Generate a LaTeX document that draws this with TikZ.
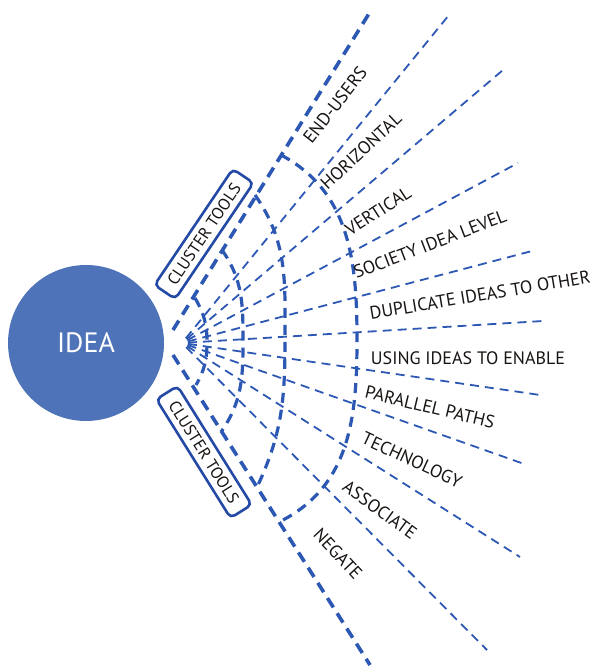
\documentclass[tikz,border=0pt]{standalone}
\usepackage{fontspec}
\setmainfont{PT Sans}
\definecolor{ideablue}{RGB}{79,115,184}
\definecolor{rayblue}{RGB}{44,88,180}
\definecolor{boxblue}{RGB}{36,74,166}
\definecolor{labeltext}{RGB}{24,20,18}

\begin{document}
\begin{tikzpicture}[x=1pt,y=1pt,
	ray/.style={draw=rayblue, line width=1.8pt, dash pattern=on 9pt off 6pt, shorten <=6pt},
	thickray/.style={draw=rayblue, line width=3.6pt, dash pattern=on 11pt off 7pt},
	hoop/.style={draw=rayblue, line width=3.2pt, dash pattern=on 10pt off 7pt},
	lbl/.style={font=\fontsize{18}{20}\selectfont, text=labeltext, inner sep=0pt},
	clusterbox/.style={draw=boxblue, fill=white, line width=2.6pt, rounded corners=5pt, minimum width=140pt, minimum height=25pt, text=labeltext, font=\fontsize{16.5}{18}\selectfont, inner sep=0pt}]
	\useasboundingbox (0,0) rectangle (595,669);

	\coordinate (F) at (182,326);
	\coordinate (eHor) at (449,654);
	\coordinate (eVer) at (503,599);
	\coordinate (eSoc) at (518,506);
	\coordinate (eDup) at (532,418);
	\coordinate (eUse) at (543,348);
	\coordinate (ePar) at (540,274);
	\coordinate (eTec) at (527,204);
	\coordinate (eAss) at (520,112);
	\coordinate (eNeg) at (487,19);
	\coordinate (sTop) at (173,339);
	\coordinate (eTop) at (370,657);
	\coordinate (sBot) at (173,314);
	\coordinate (eBot) at (370,4);

	\draw[ray] (F) -- (eHor);
	\draw[ray] (F) -- (eVer);
	\draw[ray] (F) -- (eSoc);
	\draw[ray] (F) -- (eDup);
	\draw[ray] (F) -- (eUse);
	\draw[ray] (F) -- (ePar);
	\draw[ray] (F) -- (eTec);
	\draw[ray] (F) -- (eAss);
	\draw[ray] (F) -- (eNeg);
	\draw[thickray] (sTop) -- (eTop);
	\draw[thickray] (sBot) -- (eBot);

	\draw[hoop] (195,371) to[out=-60,in=90] (207,327) to[out=-90,in=60] (196,284);
	\draw[hoop] (222,419) to[out=-55,in=90] (243,327) to[out=-90,in=55] (221,237);
	\draw[hoop] (255,474) to[out=-55,in=90] (285,330) to[out=-90,in=65] (258,184);
	\draw[hoop] (281,514) to[out=-28,in=90] (357,330) to[out=-90,in=28] (283,149);

	\node[circle, fill=ideablue, minimum size=156pt, inner sep=0pt, text=white, font=\fontsize{28}{30}\selectfont] (idea) at (86,326) {IDEA};

	\node[clusterbox, rotate=56] (ctop) at (204,435) {CLUSTER TOOLS};
	\node[clusterbox, rotate=-58] (cbot) at (204,217) {CLUSTER TOOLS};

	\node[lbl, rotate=52] (lEnd) at (335,564) {END-USERS};
	\node[lbl, rotate=43] (lHor) at (361,518) {HORIZONTAL};
	\node[lbl, rotate=33] (lVer) at (378,458) {VERTICAL};
	\node[lbl, rotate=21] (lSoc) at (430,425) {SOCIETY IDEA LEVEL};
	\node[lbl, rotate=9.5] (lDup) at (480,374) {DUPLICATE IDEAS TO OTHER};
	\node[lbl] (lUse) at (468,311) {USING IDEAS TO ENABLE};
	\node[lbl, rotate=-13.5] (lPar) at (430,262) {PARALLEL PATHS};
	\node[lbl, rotate=-25] (lTec) at (412,209) {TECHNOLOGY};
	\node[lbl, rotate=-36] (lAss) at (380,159) {ASSOCIATE};
	\node[lbl, rotate=-47] (lNeg) at (338,115) {NEGATE};
\end{tikzpicture}
\end{document}
